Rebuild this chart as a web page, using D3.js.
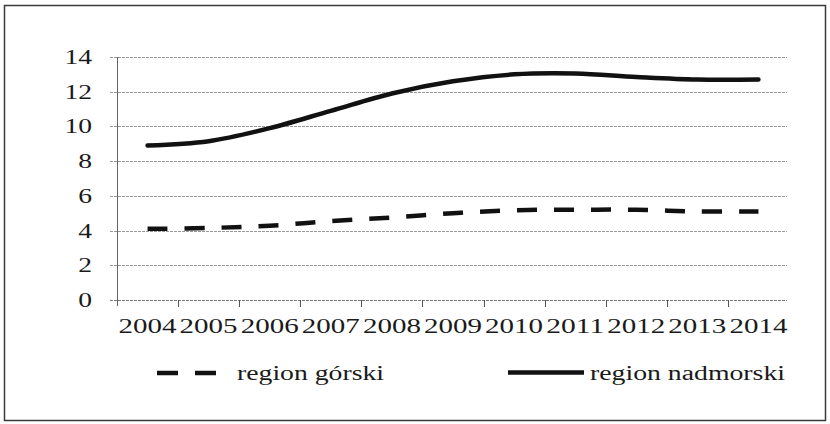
<!DOCTYPE html>
<html>
<head>
<meta charset="utf-8">
<script src="https://cdn.jsdelivr.net/npm/d3@7"></script>
<style>
  html, body { margin: 0; padding: 0; background: #fff; }
  svg { display: block; }
  text { font-family: "Liberation Serif", "Times New Roman", serif; fill: #1a1a1a; }
</style>
</head>
<body>
<svg id="chart" width="830" height="424"></svg>
<script>
const years = ["2004","2005","2006","2007","2008","2009","2010","2011","2012","2013","2014"];
const gorski = [4.1, 4.15, 4.28, 4.55, 4.75, 5.0, 5.17, 5.2, 5.2, 5.1, 5.1];
const nadmorski = [8.9, 9.15, 9.9, 10.9, 11.9, 12.6, 13.0, 13.05, 12.85, 12.7, 12.7];
const yTicks = [0, 2, 4, 6, 8, 10, 12, 14];
const seriesNames = ["region górski", "region nadmorski"];

const svg = d3.select("#chart");

// outer frame
svg.append("rect")
  .attr("x", 4.5).attr("y", 5.5).attr("width", 821).attr("height", 415)
  .attr("fill", "none").attr("stroke", "#3a3a3a").attr("stroke-width", 1.5);

const x = d3.scaleBand().domain(years).range([117, 789]).padding(0);
const y = d3.scaleLinear().domain([0, 14]).range([300, 57]);

// gridlines
svg.append("g").selectAll("line").data(yTicks).join("line")
  .attr("x1", 110).attr("x2", 787)
  .attr("y1", d => Math.round(y(d)) + 0.5).attr("y2", d => Math.round(y(d)) + 0.5)
  .attr("stroke", d => d === 0 ? "#777" : "#999")
  .attr("stroke-width", 1)
  .attr("stroke-dasharray", "3,1");

// y axis line
svg.append("line")
  .attr("x1", 117.5).attr("x2", 117.5).attr("y1", y(14)).attr("y2", 306)
  .attr("stroke", "#666").attr("stroke-width", 1);

// x ticks at band boundaries
const bounds = years.map(d => x(d)).concat([x.range()[1]]);
svg.append("g").selectAll("line").data(bounds.slice(1, -1)).join("line")
  .attr("x1", d => Math.round(d) + 0.5).attr("x2", d => Math.round(d) + 0.5)
  .attr("y1", 300).attr("y2", 307)
  .attr("stroke", "#555").attr("stroke-width", 1);

// y labels
svg.append("g").selectAll("text").data(yTicks).join("text")
  .attr("x", 92).attr("y", d => y(d))
  .attr("dy", "0.35em")
  .attr("text-anchor", "end")
  .attr("font-size", 20)
  .attr("textLength", d => String(d).length * 13.8)
  .attr("lengthAdjust", "spacingAndGlyphs")
  .text(d => d);

// x labels
svg.append("g").selectAll("text").data(years).join("text")
  .attr("x", d => x(d) + x.bandwidth() / 2 - 29)
  .attr("y", 333)
  .attr("font-size", 20)
  .attr("textLength", 58)
  .attr("lengthAdjust", "spacingAndGlyphs")
  .text(d => d);

// lines
const line = d3.line()
  .x((d, i) => x(years[i]) + x.bandwidth() / 2)
  .y(d => y(d))
  .curve(d3.curveCatmullRom.alpha(0.5));

svg.append("path").datum(nadmorski)
  .attr("d", line)
  .attr("fill", "none").attr("stroke", "#111").attr("stroke-width", 4.5)
  .attr("stroke-linecap", "round");

svg.append("path").datum(gorski)
  .attr("d", line)
  .attr("fill", "none").attr("stroke", "#111").attr("stroke-width", 4.5)
  .attr("stroke-dasharray", "20,17");

// legend
const lg = svg.append("g");
lg.append("line").attr("x1", 157).attr("x2", 217).attr("y1", 373).attr("y2", 373)
  .attr("stroke", "#111").attr("stroke-width", 4.5).attr("stroke-dasharray", "21,17");
lg.append("text").attr("x", 237).attr("y", 380).attr("font-size", 20)
  .attr("textLength", 147).attr("lengthAdjust", "spacingAndGlyphs")
  .text(seriesNames[0]);
lg.append("line").attr("x1", 508).attr("x2", 584).attr("y1", 372.5).attr("y2", 372.5)
  .attr("stroke", "#111").attr("stroke-width", 4.5);
lg.append("text").attr("x", 590).attr("y", 380).attr("font-size", 20)
  .attr("textLength", 195).attr("lengthAdjust", "spacingAndGlyphs")
  .text(seriesNames[1]);
</script>
</body>
</html>
